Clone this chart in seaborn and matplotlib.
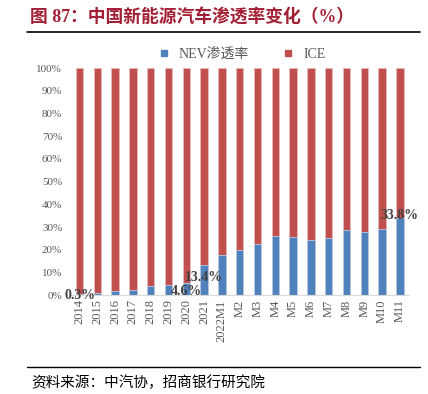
import pandas as pd
import seaborn as sns
import matplotlib.pyplot as plt
import matplotlib.ticker as mtick
from matplotlib.lines import Line2D

# Data
periods = ['2014', '2015', '2016', '2017', '2018', '2019', '2020', '2021', '2022M1',
           'M2', 'M3', 'M4', 'M5', 'M6', 'M7', 'M8', 'M9', 'M10', 'M11']
nev = [0.3, 1.0, 1.6, 2.4, 4.1, 4.6, 5.4, 13.4, 17.6,
       19.7, 22.3, 25.9, 25.6, 24.5, 25.2, 28.6, 27.7, 29.2, 33.8]
ice = [100 - v for v in nev]
labels = {'2014': ('0.3%', 0.0), '2020': ('4.6%', 1.4), '2021': ('13.4%', 7.6), 'M11': ('33.8%', 35.0)}

df = pd.DataFrame({'period': periods, 'nev': nev, 'ice': ice})
df['total'] = df['nev'] + df['ice']

sns.set_style('white')
plt.rcParams['font.family'] = ['Liberation Serif', 'Noto Sans CJK SC', 'DejaVu Sans']

fig = plt.figure(figsize=(4.28, 3.94), dpi=100)
ax = fig.add_axes([0.165, 0.251, 0.79, 0.576])

blue = '#4F81BD'
red = '#C0504D'
# ICE on top of NEV: draw the 100% total first, then the NEV share over it
sns.barplot(data=df, x='period', y='total', color=red, width=0.42, ax=ax,
            edgecolor='#E8B8B8', linewidth=0.6, saturation=1)
sns.barplot(data=df, x='period', y='nev', color=blue, width=0.42, ax=ax,
            edgecolor='#B8CCE4', linewidth=0.6, saturation=1)

ax.set_ylim(0, 100)
ax.set_xlim(-0.5, len(periods) - 0.5)
ax.set_yticks(range(0, 101, 10))
ax.yaxis.set_major_formatter(mtick.PercentFormatter(decimals=0))
ax.set_xlabel('')
ax.set_ylabel('')
ax.tick_params(axis='both', length=0, labelcolor='#595959')
ax.tick_params(axis='y', pad=6, labelsize=8)
ax.tick_params(axis='x', pad=3, labelsize=9)
plt.setp(ax.get_xticklabels(), rotation=90)
for s in ['top', 'right', 'left']:
    ax.spines[s].set_visible(False)
ax.spines['bottom'].set_color('#D9D9D9')

for name, (txt, y) in labels.items():
    i = periods.index(name)
    ax.text(i, y, txt, ha='center', va='center', fontsize=10, fontweight='bold',
            color='#404040', clip_on=False)

handles = [Line2D([], [], marker='s', linestyle='', color=blue, markersize=5),
           Line2D([], [], marker='s', linestyle='', color=red, markersize=5)]
fig.legend(handles, ['NEV渗透率', 'ICE'], loc='center', bbox_to_anchor=(0.555, 0.862),
           ncol=2, frameon=False, fontsize=10, handletextpad=0.1, columnspacing=1.8,
           labelcolor='#595959')

fig.text(0.07, 0.955, '图 87：中国新能源汽车渗透率变化（%）', fontsize=12.8, fontweight='bold',
         color='#A31F34', va='center', ha='left')
fig.add_artist(Line2D([0.063, 0.982], [0.918, 0.918], color='black', linewidth=1.2))
fig.add_artist(Line2D([0.063, 0.982], [0.069, 0.069], color='black', linewidth=1.0))
fig.text(0.072, 0.028, '资料来源：中汽协，招商银行研究院', fontsize=10.5, color='black',
         va='center', ha='left')

fig.savefig('out.png', dpi=100)
